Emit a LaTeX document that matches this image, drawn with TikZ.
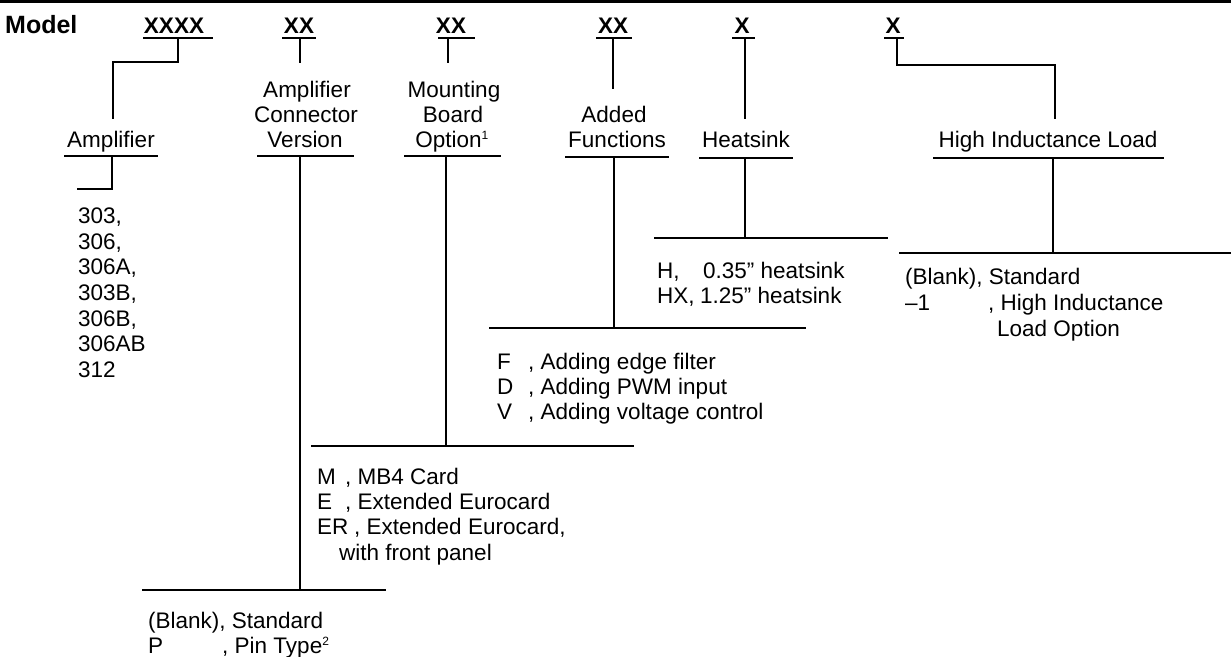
\documentclass[tikz,border=0pt]{standalone}
\usepackage{fontspec}
\setmainfont{Liberation Sans}
\newcommand{\fsz}{\fontsize{22.5}{25}\selectfont}
\tikzset{
  lbl/.style={font=\fsz, inner sep=0pt, anchor=base},
  lbw/.style={font=\fsz, inner sep=0pt, anchor=base west},
  bld/.style={font=\fsz\bfseries, inner sep=0pt, anchor=base},
  ln/.style={line width=1.6pt, line cap=rect},
}
\begin{document}
\begin{tikzpicture}[x=1pt,y=-1pt]
\useasboundingbox (0,0) rectangle (1231,656);
\clip (0,0) rectangle (1231,656);
% top rule
\draw[line width=3pt] (0,1.5) -- (1231,1.5);

% header row
\node[bld, anchor=base west, font=\fontsize{25}{27}\selectfont\bfseries] (model) at (5,33) {Model};
\node[bld] (x1) at (174,33) {XXXX};
\node[bld] (x2) at (299,33) {XX};
\node[bld] (x3) at (451,33) {XX};
\node[bld] (x4) at (613,33) {XX};
\node[bld] (x5) at (742,33) {X};
\node[bld] (x6) at (893,33) {X};
\draw[ln] (144,38) -- (212,38);
\draw[ln] (283,38) -- (315,38);
\draw[ln] (439,38) -- (474,38);
\draw[ln] (597,38) -- (631,38);
\draw[ln] (733,38) -- (754,38);
\draw[ln] (885,38) -- (903,38);

% category labels
\node[lbl] (amp) at (111,147) {Amplifier};
\node[lbl] (conA) at (307,97) {Amplifier};
\node[lbl] (conB) at (306,122) {Connector};
\node[lbl] (conC) at (305,147) {Version};
\node[lbl] (mntA) at (454,97) {Mounting};
\node[lbl] (mntB) at (453,122) {Board};
\node[lbl] (mntC) at (452,147) {Option\textsuperscript{\fontsize{12}{12}\selectfont 1}};
\node[lbl] (addA) at (614,122) {Added};
\node[lbl] (addB) at (617,147) {Functions};
\node[lbl] (heat) at (746,147) {Heatsink};
\node[lbl] (hil) at (1048,147) {High Inductance Load};
\draw[ln] (65,156) -- (157,156);
\draw[ln] (258,156) -- (353,156);
\draw[ln] (405,156) -- (500,156);
\draw[ln] (566,157) -- (668,157);
\draw[ln] (700,158) -- (792,158);
\draw[ln] (934,158) -- (1163,158);

% connectors header -> labels
\coordinate (a1) at (178,38); \coordinate (a1k) at (113,62); \coordinate (a1e) at (113,118);
\draw[ln] (a1) |- (a1k) -- (a1e);
\coordinate (c1) at (300,38); \coordinate (c1e) at (300,62);
\draw[ln] (c1) -- (c1e);
\coordinate (m1) at (448,38); \coordinate (m1e) at (448,62);
\draw[ln] (m1) -- (m1e);
\coordinate (f1) at (613,38); \coordinate (f1e) at (613,88);
\draw[ln] (f1) -- (f1e);
\coordinate (h1) at (745,38); \coordinate (h1e) at (745,118);
\draw[ln] (h1) -- (h1e);
\coordinate (i1) at (897,38); \coordinate (i1k) at (1055,65); \coordinate (i1e) at (1055,118);
\draw[ln] (i1) |- (i1k) -- (i1e);

% connectors labels -> option bars
\coordinate (a2) at (112,156); \coordinate (a2e) at (78,189);
\draw[ln] (a2) |- (a2e);
\coordinate (c2) at (300,156); \coordinate (c2e) at (300,590);
\draw[ln] (c2) -- (c2e);
\draw[ln] (143,590) -- (385,590);
\coordinate (m2) at (446,156); \coordinate (m2e) at (446,446);
\draw[ln] (m2) -- (m2e);
\draw[ln] (312,446) -- (633,446);
\coordinate (f2) at (614,157); \coordinate (f2e) at (614,328);
\draw[ln] (f2) -- (f2e);
\draw[ln] (490,328) -- (805,328);
\coordinate (h2) at (745,158); \coordinate (h2e) at (745,238);
\draw[ln] (h2) -- (h2e);
\draw[ln] (655,238) -- (887,238);
\coordinate (i2) at (1053,158); \coordinate (i2e) at (1053,253);
\draw[ln] (i2) -- (i2e);
\draw[ln] (900,253) -- (1231,253);

% amplifier list
\node[lbw] (l1) at (78,223) {303,};
\node[lbw] (l2) at (78,249) {306,};
\node[lbw] (l3) at (78,274) {306A,};
\node[lbw] (l4) at (78,300) {303B,};
\node[lbw] (l5) at (78,326) {306B,};
\node[lbw] (l6) at (78,351) {306AB};
\node[lbw] (l7) at (78,377) {312};

% heatsink options
\node[lbw] (hA) at (657,278) {H,};
\node[lbw] (hAd) at (703,278) {0.35" heatsink};
\node[lbw] (hB) at (657,303) {HX,};
\node[lbw] (hBd) at (700,303) {1.25" heatsink};

% high inductance options
\node[lbw] (iA) at (905,284) {(Blank), Standard};
\node[lbw] (iB) at (905,310) {\textendash1};
\node[lbw] (iBd) at (988,310) {, High Inductance};
\node[lbw] (iC) at (997,336) {Load Option};

% added functions options
\node[lbw] (fF) at (497,369) {F};
\node[lbw] (fFd) at (528,369) {, Adding edge filter};
\node[lbw] (fD) at (497,394) {D};
\node[lbw] (fDd) at (528,394) {, Adding PWM input};
\node[lbw] (fV) at (497,419) {V};
\node[lbw] (fVd) at (528,419) {, Adding voltage control};

% mounting options
\node[lbw] (mM) at (317,484) {M};
\node[lbw] (mMd) at (345,484) {, MB4 Card};
\node[lbw] (mE) at (317,509) {E};
\node[lbw] (mEd) at (345,509) {, Extended Eurocard};
\node[lbw] (mER) at (317,534) {ER};
\node[lbw] (mERd) at (354,534) {, Extended Eurocard,};
\node[lbw] (mERe) at (339,560) {with front panel};

% connector options
\node[lbw] (cA) at (148,628) {(Blank), Standard};
\node[lbw] (cP) at (148,653) {P};
\node[lbw] (cPd) at (222,653) {, Pin Type\textsuperscript{\fontsize{12}{12}\selectfont 2}};
\end{tikzpicture}
\end{document}
